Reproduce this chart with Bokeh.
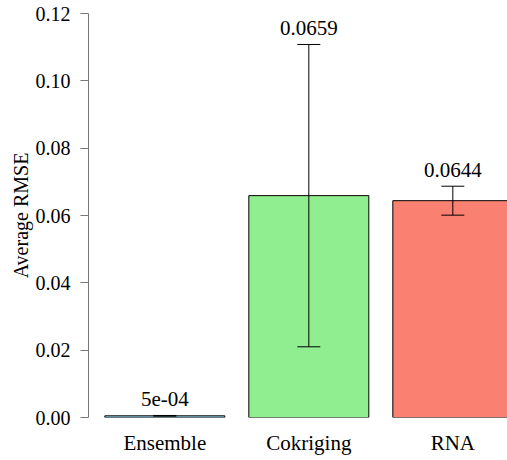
from bokeh.plotting import figure
from bokeh.models import ColumnDataSource, Range1d, FixedTicker, Whisker, TeeHead
from bokeh.embed import file_html
from bokeh.resources import INLINE
from bokeh.core.properties import value

categories = ["Ensemble", "Cokriging", "RNA"]
means = [0.0005, 0.0659, 0.0644]
sds = [0.0001, 0.0449, 0.0043]
labels = ["5e-04", "0.0659", "0.0644"]
colors = ["skyblue", "lightgreen", "salmon"]
y_ticks = [0.00, 0.02, 0.04, 0.06, 0.08, 0.10, 0.12]

# R barplot geometry: width 1, space 0.2
bar_w = 1.0
space = 0.2
centers = [space + bar_w / 2 + i * (bar_w + space) for i in range(len(categories))]
lefts = [c - bar_w / 2 for c in centers]
rights = [c + bar_w / 2 for c in centers]
span = rights[-1] - lefts[0]
x0 = lefts[0] - 0.04 * span

FONT = "Liberation Serif"
FS_Y = "20px"
FS_X = "21px"

src = ColumnDataSource(dict(
    x=centers, top=means, color=colors, label=labels,
    lower=[m - s for m, s in zip(means, sds)],
    upper=[m + s for m, s in zip(means, sds)],
))

W, H = 507, 460
left_b, top_b, bottom_b = 88, 13, 43
frame_w = W - left_b
px_per_unit = 120.0

p = figure(width=W, height=H, output_backend="svg", toolbar_location=None,
           x_range=Range1d(x0, x0 + frame_w / px_per_unit),
           y_range=Range1d(0, 0.12),
           min_border_left=left_b, min_border_right=0,
           min_border_top=top_b, min_border_bottom=bottom_b)
p.outline_line_color = None
p.xgrid.visible = False
p.ygrid.visible = False
p.background_fill_color = "white"

p.vbar(x="x", top="top", bottom=0, width=bar_w, fill_color="color",
       line_color="black", line_width=1, source=src)

wh = Whisker(base="x", lower="lower", upper="upper", source=src,
             line_color="black", line_width=1, level="overlay",
             upper_head=TeeHead(size=23, line_color="black", line_width=1),
             lower_head=TeeHead(size=23, line_color="black", line_width=1))
p.add_layout(wh)

p.text(x="x", y="upper", text="label", source=src, text_align="center",
       text_baseline="middle", y_offset=-16, text_font=value(FONT),
       text_font_size=FS_X, text_color="black")

# y axis
p.yaxis.ticker = FixedTicker(ticks=y_ticks)
p.yaxis.major_label_overrides = {t: f"{t:.2f}" for t in y_ticks}
p.yaxis.axis_label = "Average RMSE"
p.yaxis.axis_label_text_font = FONT
p.yaxis.axis_label_text_font_style = "normal"
p.yaxis.axis_label_text_font_size = FS_Y
p.yaxis.axis_label_text_color = "black"
p.yaxis.axis_label_standoff = 1
p.yaxis.major_label_text_font = FONT
p.yaxis.major_label_text_font_size = FS_Y
p.yaxis.major_label_text_color = "black"
p.yaxis.major_label_standoff = 10
p.yaxis.major_tick_out = 8
p.yaxis.major_tick_in = 0
p.yaxis.minor_tick_line_color = None
p.yaxis.axis_line_color = "#777777"
p.yaxis.major_tick_line_color = "#777777"

# x axis (labels only)
p.xaxis.ticker = FixedTicker(ticks=centers)
p.xaxis.major_label_overrides = {c: n for c, n in zip(centers, categories)}
p.xaxis.major_label_text_font = FONT
p.xaxis.major_label_text_font_size = FS_X
p.xaxis.major_label_text_color = "black"
p.xaxis.major_label_standoff = 13
p.xaxis.axis_line_color = None
p.xaxis.major_tick_line_color = None
p.xaxis.minor_tick_line_color = None
p.xaxis.major_tick_out = 0
p.xaxis.major_tick_in = 0

open("out.html", "w").write(file_html(p, INLINE))
